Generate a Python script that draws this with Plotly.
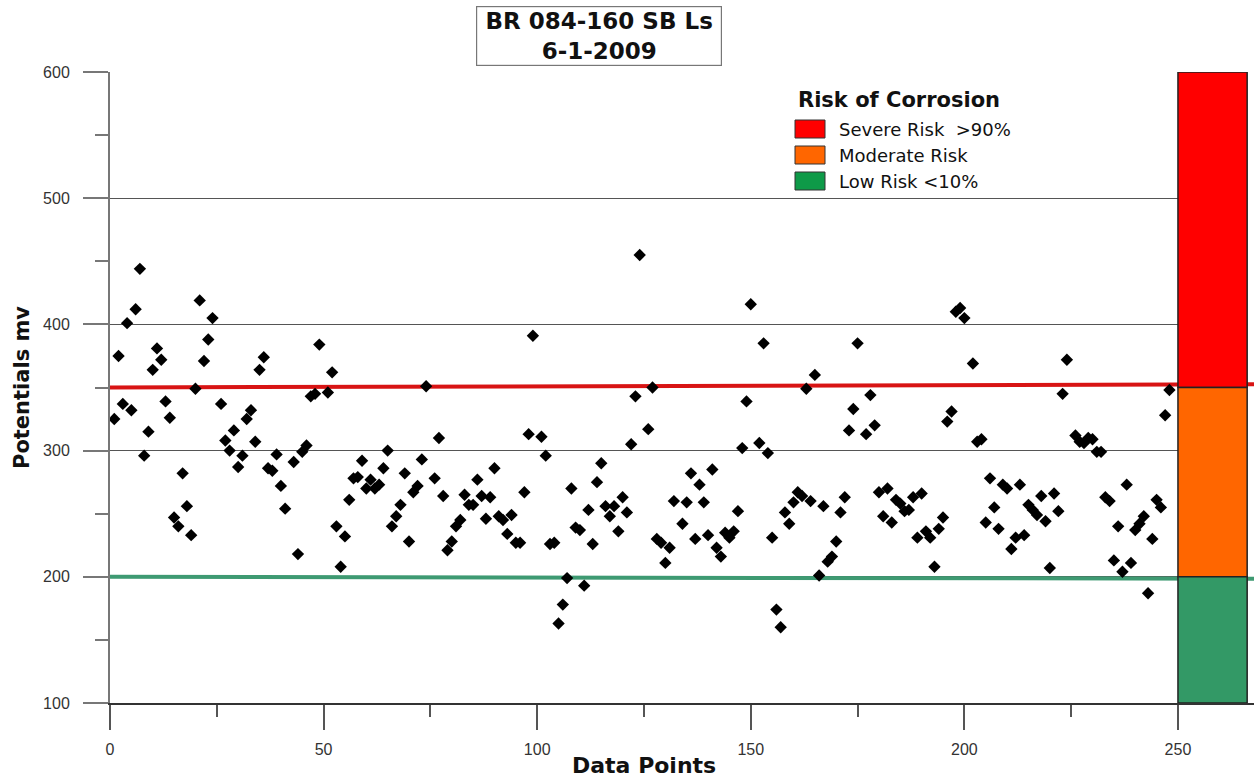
import plotly.graph_objects as go

# Survey readings: data point index and half-cell potential (mV)
point_idx = [
    1, 2, 3, 4, 5, 6, 7, 8, 9, 10, 11, 12, 13, 14, 15, 16, 17, 18, 19, 20,
    21, 22, 23, 24, 26, 27, 28, 29, 30, 31, 32, 33, 34, 35, 36, 37, 38, 39, 40, 41,
    43, 44, 45, 46, 47, 48, 49, 51, 52, 53, 54, 55, 56, 57, 58, 59, 60, 61, 62, 63,
    64, 65, 66, 67, 68, 69, 70, 71, 72, 73, 74, 76, 77, 78, 79, 80, 81, 82, 83,
    84, 85, 86, 87, 88, 89, 90, 91, 92, 93, 94, 95, 96, 97, 98, 99, 101, 102, 103, 104,
    105, 106, 107, 108, 109, 110, 111, 112, 113, 114, 115, 116, 117, 118, 119, 120, 121,
    122, 123, 124,
    126, 127, 128, 129, 130, 131, 132, 134, 135, 136, 137, 138, 139, 140, 141, 142, 143,
    144, 145, 146, 147, 148, 149, 150, 152, 153, 154, 155, 156, 157, 158, 159, 160, 161,
    162, 163, 164, 165, 166, 167,
    168, 169, 170, 171, 172, 173, 174, 175, 177, 178, 179, 180, 181, 182, 183, 184, 185,
    186, 187, 188, 189, 190, 191, 192, 193, 194, 195, 196, 197, 198, 199, 200, 202, 203,
    204, 205, 206, 207, 208,
    209, 210, 211, 212, 213, 214, 215, 216, 217, 218, 219, 220, 221, 222, 223, 224,
    226, 227, 228, 229, 230, 231, 232, 233, 234, 235, 236, 237, 238, 239, 240, 241, 242,
    243, 244, 245, 246, 247, 248,
]
potential_mv = [
    325, 375, 337, 401, 332, 412, 444, 296, 315, 364, 381, 372, 339, 326, 247, 240, 282, 256, 233, 349,
    419, 371, 388, 405, 337, 308, 300, 316, 287, 296, 325, 332, 307, 364, 374, 286, 284, 297, 272, 254,
    291, 218, 299, 304, 343, 345, 384, 346, 362, 240, 208, 232, 261, 278, 279, 292, 270, 277, 270, 273,
    286, 300, 240, 248, 257, 282, 228, 267, 272, 293, 351, 278, 310, 264, 221, 228, 240, 245, 265,
    257, 257, 277, 264, 246, 263, 286, 248, 245, 234, 249, 227, 227, 267, 313, 391, 311, 296, 226, 227,
    163, 178, 199, 270, 239, 237, 193, 253, 226, 275, 290, 256, 248, 256, 236, 263, 251,
    305, 343, 455,
    317, 350, 230, 227, 211, 223, 260, 242, 259, 282, 230, 273, 259, 233, 285, 223, 216,
    235, 231, 236, 252, 302, 339, 416, 306, 385, 298, 231, 174, 160, 251, 242, 259, 267,
    264, 349, 260, 360, 201, 256,
    212, 216, 228, 251, 263, 316, 333, 385, 313, 344, 320, 267, 248, 270, 243, 261, 258,
    252, 253, 263, 231, 266, 236, 231, 208, 238, 247, 323, 331, 410, 413, 405, 369, 307,
    309, 243, 278, 255, 238,
    273, 270, 222, 231, 273, 233, 257, 253, 249, 264, 244, 207, 266, 252, 345, 372,
    312, 307, 306, 310, 309, 299, 299, 263, 260, 213, 240, 204, 273, 211, 237, 242, 248,
    187, 230, 261, 255, 328, 348,
]

# Risk-of-corrosion zones (mV) shown in the side column and the key
zone_names = ["Severe Risk \u00a0>90%", "Moderate Risk", "Low Risk <10%"]
zone_low = [350, 200, 100]
zone_high = [600, 350, 200]
zone_colors = ["#FF0000", "#FF6600", "#339966"]
key_colors = ["#FF0000", "#FF6600", "#0E9A48"]

# Threshold trend lines: value at the first and last position of the axis
threshold_start = [350, 200]
threshold_end = [352.5, 198.5]
threshold_colors = ["#D81414", "#3E9A72"]

x_ticks = [0, 50, 100, 150, 200, 250]
y_ticks = [100, 200, 300, 400, 500, 600]
column_x = [250, 266.2]
x_max = 267.8

W, H = 1254, 780
L, R, T, B = 110, W, 72, 703


def xp(px):
    return (px - L) / (R - L)


def yp(py):
    return (B - py) / (B - T)


FONT = "Liberation Sans, Arial, sans-serif"
WIDE = "DejaVu Sans, sans-serif"

fig = go.Figure()
fig.add_trace(go.Scatter(
    x=point_idx, y=potential_mv, mode="markers",
    marker=dict(symbol="diamond", size=9.5, color="black", line=dict(width=0)),
    showlegend=False, hoverinfo="x+y",
))

shapes = []
# strip right of the zone column stays blank
shapes.append(dict(type="rect", xref="x", yref="y", x0=column_x[1], x1=x_max,
                   y0=y_ticks[0], y1=y_ticks[-1], fillcolor="white",
                   line=dict(width=0), layer="between"))
for ys, ye, c in zip(threshold_start, threshold_end, threshold_colors):
    shapes.append(dict(type="line", xref="x", yref="y", x0=0, x1=x_max, y0=ys, y1=ye,
                       line=dict(color=c, width=4), layer="between"))
for lo, hi, c in zip(zone_low, zone_high, zone_colors):
    shapes.append(dict(type="rect", xref="x", yref="y", x0=column_x[0], x1=column_x[1],
                       y0=lo, y1=hi, fillcolor=c, line=dict(color="#222222", width=1.5),
                       layer="between"))

annotations = []
# boxed chart title
annotations.append(dict(
    text="<b>BR 084-160 SB Ls<br>6-1-2009</b>", xref="paper", yref="paper",
    x=xp(599), y=yp(35.5), xanchor="center", yanchor="middle", showarrow=False,
    font=dict(family=WIDE, size=23, color="#111111"),
    bordercolor="#777777", borderwidth=1.2, borderpad=0, bgcolor="white",
    width=244, height=58, align="center",
))
# key for the zone colours
annotations.append(dict(
    text="<b>Risk of Corrosion</b>", xref="paper", yref="paper",
    x=xp(796), y=yp(100), xanchor="left", yanchor="middle", showarrow=False,
    font=dict(family=WIDE, size=21, color="#111111"),
))
key_rows = [129, 155, 181]
for name, c, cy in zip(zone_names, key_colors, key_rows):
    shapes.append(dict(type="rect", xref="paper", yref="paper",
                       x0=xp(795), x1=xp(825), y0=yp(cy + 9), y1=yp(cy - 9),
                       fillcolor=c, line=dict(color="#333333", width=1)))
    annotations.append(dict(
        text=name, xref="paper", yref="paper", x=xp(837), y=yp(cy),
        xanchor="left", yanchor="middle", showarrow=False,
        font=dict(family=WIDE, size=18, color="#111111"),
    ))
# axis titles
annotations.append(dict(
    text="<b>Data Points</b>", xref="paper", yref="paper", x=xp(644), y=yp(765),
    xanchor="center", yanchor="middle", showarrow=False,
    font=dict(family=WIDE, size=22, color="#111111"),
))
annotations.append(dict(
    text="<b>Potentials mv</b>", xref="paper", yref="paper", x=xp(22), y=yp(388),
    xanchor="center", yanchor="middle", showarrow=False, textangle=-90,
    font=dict(family=WIDE, size=21, color="#111111"),
))

fig.update_layout(
    width=W, height=H,
    margin=dict(l=L, r=W - R, t=T, b=H - B, pad=0),
    paper_bgcolor="white", plot_bgcolor="white",
    font=dict(family=FONT, color="#333333"),
    shapes=shapes, annotations=annotations, showlegend=False,
    xaxis=dict(
        range=[0, x_max], tickmode="array", tickvals=x_ticks,
        showgrid=False, zeroline=False,
        showline=True, linecolor="#333333", linewidth=1.5,
        ticks="outside", ticklen=25, tickwidth=1.5, tickcolor="#555555",
        minor=dict(dtick=25, tick0=0, ticks="outside", ticklen=12, tickwidth=1.5,
                   tickcolor="#555555", showgrid=False),
        tickfont=dict(size=16, color="#333333"), ticklabelstandoff=6,
    ),
    yaxis=dict(
        range=[100, 600], tickmode="array", tickvals=y_ticks,
        showgrid=True, gridcolor="#555555", gridwidth=1, zeroline=False,
        showline=True, linecolor="#777777", linewidth=2,
        ticks="outside", ticklen=25, tickwidth=2, tickcolor="#777777",
        minor=dict(dtick=50, tick0=0, ticks="outside", ticklen=13, tickwidth=2,
                   tickcolor="#777777", showgrid=False),
        tickfont=dict(size=16, color="#333333"), ticklabelstandoff=10,
    ),
)

fig.write_html("out.html")
